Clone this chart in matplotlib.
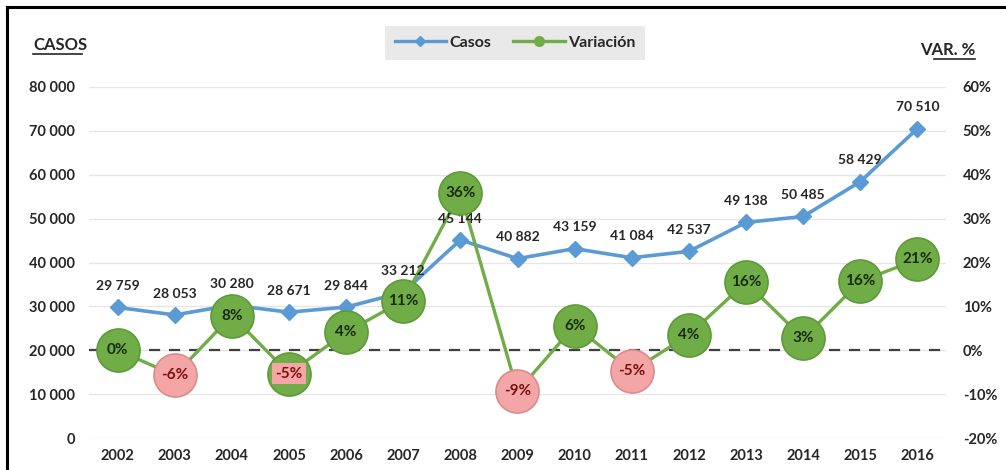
import matplotlib
matplotlib.use("Agg")
import matplotlib.pyplot as plt
from matplotlib.lines import Line2D
import matplotlib.ticker as mticker

years = ["2002", "2003", "2004", "2005", "2006", "2007", "2008", "2009",
         "2010", "2011", "2012", "2013", "2014", "2015", "2016"]
casos = [29759, 28053, 30280, 28671, 29844, 33212, 45144, 40882,
         43159, 41084, 42537, 49138, 50485, 58429, 70510]
variacion = [0.0, -5.7, 7.9, -5.3, 4.1, 11.3, 35.9, -9.4,
             5.6, -4.8, 3.5, 15.5, 2.7, 15.7, 20.7]
var_labels = ["0%", "-6%", "8%", "-5%", "4%", "11%", "36%", "-9%",
              "6%", "-5%", "4%", "16%", "3%", "16%", "21%"]
casos_labels = ["29 759", "28 053", "30 280", "28 671", "29 844", "33 212", "45 144", "40 882",
                "43 159", "41 084", "42 537", "49 138", "50 485", "58 429", "70 510"]
left_ticks = [0, 10000, 20000, 30000, 40000, 50000, 60000, 70000, 80000]
left_tick_labels = ["0", "10 000", "20 000", "30 000", "40 000", "50 000", "60 000", "70 000", "80 000"]
right_ticks = [-20, -10, 0, 10, 20, 30, 40, 50, 60]

plt.rcParams['font.family'] = ['Lato', 'DejaVu Sans']

W, H = 1006, 470
fig = plt.figure(figsize=(W / 100, H / 100), dpi=100)
fig.patch.set_facecolor("white")

ax = fig.add_axes([89 / W, 1 - 438 / H, 857 / W, 351 / H])
ax2 = ax.twinx()

x = list(range(len(years)))
blue = "#5b9bd5"
green = "#70ad47"
pink = "#f4a6a6"
text_col = "#262626"

ax.set_xlim(-0.5, len(years) - 0.5)
ax.set_ylim(0, 80000)
ax2.set_ylim(-20, 60)

ax.set_yticks(left_ticks)
ax.set_yticklabels(left_tick_labels)
ax2.set_yticks(right_ticks)
ax2.yaxis.set_major_formatter(mticker.FuncFormatter(lambda v, p: f"{int(v)}%"))
ax.set_xticks(x)
ax.set_xticklabels(years)

for a in (ax, ax2):
    for s in a.spines.values():
        s.set_visible(False)
    a.tick_params(length=0, labelsize=10.5, colors=text_col)
    for lab in a.get_yticklabels() + a.get_xticklabels():
        lab.set_fontweight("bold")
ax.tick_params(axis="y", pad=10)
ax2.tick_params(axis="y", pad=12)
ax.tick_params(axis="x", pad=8)
ax.grid(axis="y", color="#e6e6e6", linewidth=1)
ax.set_axisbelow(True)

# zero line of variation
ax2.axhline(0, color="#404040", linestyle=(0, (5, 4)), linewidth=1.6, zorder=1)

# casos line
ax.plot(x, casos, color=blue, linewidth=2.6, marker="D", markersize=8,
        markerfacecolor=blue, markeredgecolor=blue, zorder=3)

# variation line
ax2.plot(x, variacion, color=green, linewidth=2.4, zorder=4)

# casos labels drawn on top of the variation line
for xi, v, lab in zip(x, casos, casos_labels):
    ax2.annotate(lab, (xi, v), xycoords=ax.transData, xytext=(0, 11),
                 textcoords="offset points", ha="center", va="bottom",
                 fontsize=10, fontweight="bold", color=text_col, zorder=4.5)

for xi, v, lab in zip(x, variacion, var_labels):
    neg = v < 0
    if neg and xi == 3:
        face = green
    else:
        face = pink if neg else green
    edge = "#d98c8c" if face == pink else "#5e9a3a"
    ax2.plot([xi], [v], marker="o", markersize=31, markerfacecolor=face,
             markeredgecolor=edge, markeredgewidth=1.2, zorder=5)
    tcol = "#7a1010" if neg else "#1a2a10"
    kw = {}
    if xi == 3:
        kw["bbox"] = dict(boxstyle="square,pad=0.25", facecolor=pink, edgecolor="none")
    ax2.text(xi, v, lab, ha="center", va="center", fontsize=11,
             fontweight="bold", color=tcol, zorder=7, **kw)

# axis titles
fig.text(33 / W, 1 - 45 / H, "CASOS", fontsize=12, fontweight="bold",
         color=text_col, ha="left", va="center")
fig.add_artist(Line2D([33 / W, 82 / W], [1 - 54 / H, 1 - 54 / H], color=text_col, linewidth=1.2))
fig.text(975 / W, 1 - 50 / H, "VAR. %", fontsize=12, fontweight="bold",
         color=text_col, ha="right", va="center")
fig.add_artist(Line2D([934 / W, 975 / W], [1 - 59 / H, 1 - 59 / H], color=text_col, linewidth=1.2))

# legend
handles = [Line2D([0], [0], color=blue, linewidth=2.4, marker="D", markersize=5),
           Line2D([0], [0], color=green, linewidth=2.4, marker="o", markersize=7)]
leg = fig.legend(handles, ["Casos", "Variación"], loc="center",
                 bbox_to_anchor=(515 / W, 1 - 43 / H), ncol=2, frameon=True,
                 fontsize=11.5, handlelength=3.2, columnspacing=1.4, handletextpad=0.2,
                 borderpad=0.6)
leg.get_frame().set_facecolor("#e4e4e4")
leg.get_frame().set_edgecolor("none")
leg.get_frame().set_boxstyle("square", pad=0)
for t in leg.get_texts():
    t.set_fontweight("bold")
    t.set_color(text_col)

# figure border (left and top)
fig.add_artist(Line2D([7 / W, 7 / W], [0, 1 - 7 / H], color="black", linewidth=2.2))
fig.add_artist(Line2D([7 / W, 1], [1 - 7 / H, 1 - 7 / H], color="black", linewidth=2.2))

fig.savefig("out.png", dpi=100)
